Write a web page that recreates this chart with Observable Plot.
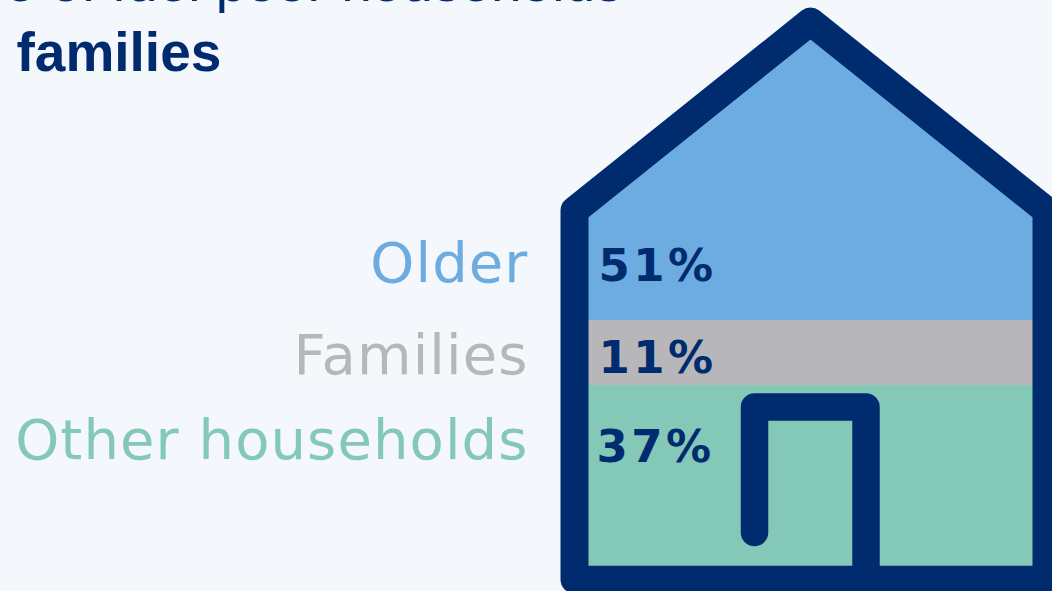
<!DOCTYPE html>
<html>
<head>
<meta charset="utf-8">
<style>
html,body{margin:0;padding:0;background:#f4f7fb;overflow:hidden}
svg{display:block}
.val text{letter-spacing:3.5px}
.cat text{letter-spacing:1.1px}
</style>
<script src="https://cdn.jsdelivr.net/npm/d3@7"></script>
<script src="https://cdn.jsdelivr.net/npm/@observablehq/plot@0.6"></script>
</head>
<body>
<script>
// Data
const categories = ["Older", "Families", "Other households"];
const shares = [51, 11, 37];
const colours = ["#6cace0", "#b7b7ba", "#84c8b8"];
const titleLines = ["Share of fuel poor households", "families"];

// Stack the shares from the floor of the house upward
const otherTop = shares[2];
const familiesTop = otherTop + shares[1];
const olderTop = familiesTop + shares[0];

// Pictogram outline in share units on y
const outlineX = [574, 574, 810, 1046, 1046, 574];
const outlineY = [-2.88, 67.96, 102.27, 67.96, -2.88, -2.88];
const doorX = [754, 754, 865.5, 865.5];
const doorY = [6.78, 32.58, 32.58, -2.88];
const roofX = [574, 810, 1046];
const roofY = [67.96, 102.27, 67.96];
const labelY = [58.3, 41.95, 25.5];
const valueX = [598, 598, 596];
const valueY = [57.85, 41.6, 24.2];

const navy = "#002b6e";
const rows = categories.map((c, i) => ({c, share: shares[i], colour: colours[i], ly: labelY[i], vx: valueX[i], vy: valueY[i]}));
const bands = [
  {y1: familiesTop, y2: otherTop, colour: colours[1]},
  {y1: otherTop, y2: 0, colour: colours[2]}
];

const chart = Plot.plot({
  width: 1052,
  height: 591,
  margin: 0,
  x: {domain: [0, 1052], range: [0, 1052], axis: null},
  y: {type: "linear", domain: [0, otherTop, familiesTop, olderTop], range: [565, 385, 320, 39], axis: null},
  style: {background: "#f4f7fb"},
  marks: [
    Plot.areaY(roofX.map((x, i) => ({x, top: roofY[i]})), {
      x: "x", y1: familiesTop, y2: "top", fill: colours[0], curve: "linear"
    }),
    Plot.rect(bands, {x1: 574, x2: 1046, y1: "y1", y2: "y2", fill: "colour"}),
    Plot.line(outlineX.map((x, i) => ({x, y: outlineY[i]})), {
      x: "x", y: "y", stroke: navy, strokeWidth: 28, strokeLinejoin: "round", strokeLinecap: "round", curve: "linear"
    }),
    Plot.line(doorX.map((x, i) => ({x, y: doorY[i]})), {
      x: "x", y: "y", stroke: navy, strokeWidth: 27.5, strokeLinejoin: "round", strokeLinecap: "round", curve: "linear"
    }),
    Plot.text(rows, {
      x: 528, y: "ly", text: "c", fill: "colour", textAnchor: "end",
      fontFamily: "DejaVu Sans", fontSize: 56, className: "cat"
    }),
    Plot.text(rows, {
      x: "vx", y: "vy", text: d => d.share + "%", fill: navy, textAnchor: "start",
      fontFamily: "DejaVu Sans", fontWeight: "bold", fontSize: 45, className: "val"
    }),
    Plot.text([titleLines[0]], {
      x: 622, y: 109.2, text: d => d, fill: navy, textAnchor: "end",
      fontFamily: "Liberation Sans", fontSize: 55
    }),
    Plot.text([titleLines[1]], {
      x: 16, y: 96.46, text: d => d, fill: navy, textAnchor: "start",
      fontFamily: "Liberation Sans", fontWeight: "bold", fontSize: 55
    })
  ]
});
document.body.appendChild(chart);
</script>
</body>
</html>
